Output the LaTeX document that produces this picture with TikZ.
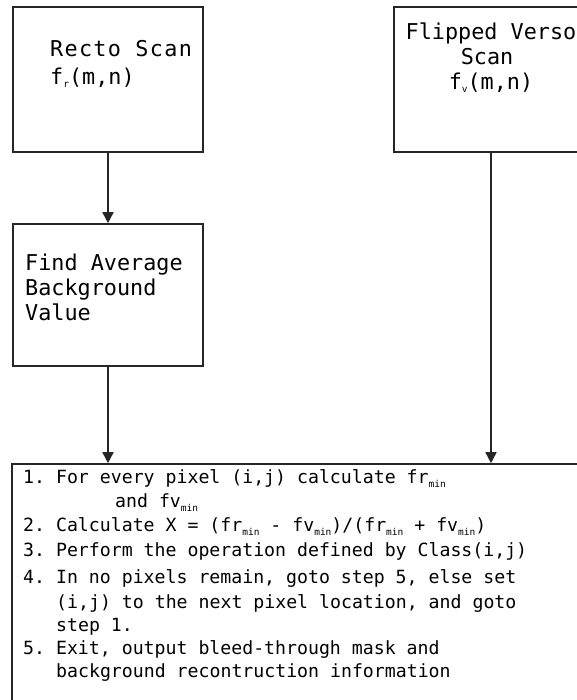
\documentclass[tikz,border=0pt]{standalone}
\usepackage{fontspec}
\setmonofont{DejaVu Sans Mono}
\newfontfamily\widemono{DejaVu Sans Mono}[LetterSpace=6]
\usetikzlibrary{arrows.meta}
% small lowered index, e.g. f_r or fr_min
\newcommand\lowidx[2][3pt]{\raisebox{-#1}{\fontsize{9.5}{9.5}\selectfont #2}}
\begin{document}
\begin{tikzpicture}[x=1pt,y=-1pt,
  box/.style={draw=black!85, line width=1.6pt, inner sep=0pt},
  bigtxt/.style={font=\ttfamily\fontsize{21.8}{25}\selectfont, text=black, inner sep=0pt},
  smalltxt/.style={font=\ttfamily\fontsize{18.2}{24}\selectfont, text=black, inner sep=0pt, anchor=base west},
  arr/.style={draw=black!85, line width=1.6pt, -{Triangle[width=11pt,length=11pt]}}]
\useasboundingbox (0,0) rectangle (577,700);
\clip (0,0) rectangle (577,700);

% boxes
\node[box, minimum width=190pt, minimum height=145pt] (recto) at (108,79.5) {};
\node[box, minimum width=194pt, minimum height=145pt] (verso) at (491,79.5) {};
\node[box, minimum width=190pt, minimum height=142pt] (avg) at (108,295) {};
\node[box, minimum width=958pt, minimum height=400pt] (algo) at (491,664) {};

% recto scan
\node[bigtxt, anchor=base west] (rectoA) at (50,57) {\widemono Recto Scan};
\node[bigtxt, anchor=base west] (rectoB) at (50,85) {f\lowidx{r}(m,n)};

% flipped verso scan
\node[bigtxt, anchor=base] (versoA) at (491,40) {Flipped Verso};
\node[bigtxt, anchor=base] (versoB) at (487,65) {Scan};
\node[bigtxt, anchor=base] (versoC) at (491,90) {f\lowidx{v}(m,n)};

% average background
\node[bigtxt, anchor=base west] (avgA) at (25,270) {Find Average};
\node[bigtxt, anchor=base west] (avgB) at (25,295) {Background};
\node[bigtxt, anchor=base west] (avgC) at (25,320) {Value};

% algorithm steps
\node[smalltxt] (s1) at (23,483) {1. For every pixel (i,j) calculate fr\lowidx[4pt]{min}};
\node[smalltxt] (s1b) at (115,507) {and fv\lowidx[4pt]{min}};
\node[smalltxt] (s2) at (23,531) {2. Calculate X = (fr\lowidx[4pt]{min} - fv\lowidx[4pt]{min})/(fr\lowidx[4pt]{min} + fv\lowidx[4pt]{min})};
\node[smalltxt] (s3) at (23,556) {3. Perform the operation defined by Class(i,j)};
\node[smalltxt] (s4) at (23,583) {4. In no pixels remain, goto step 5, else set};
\node[smalltxt] (s4b) at (56,608) {(i,j) to the next pixel location, and goto};
\node[smalltxt] (s4c) at (56,631) {step 1.};
\node[smalltxt] (s5) at (23,654) {5. Exit, output bleed-through mask and};
\node[smalltxt] (s5b) at (56,677) {background recontruction information};

% connectors
\draw[arr] (recto.south) -- (avg.north);
\draw[arr] (avg.south) -- (avg.south |- algo.north);
\draw[arr] (verso.south) -- (verso.south |- algo.north);
\end{tikzpicture}
\end{document}
